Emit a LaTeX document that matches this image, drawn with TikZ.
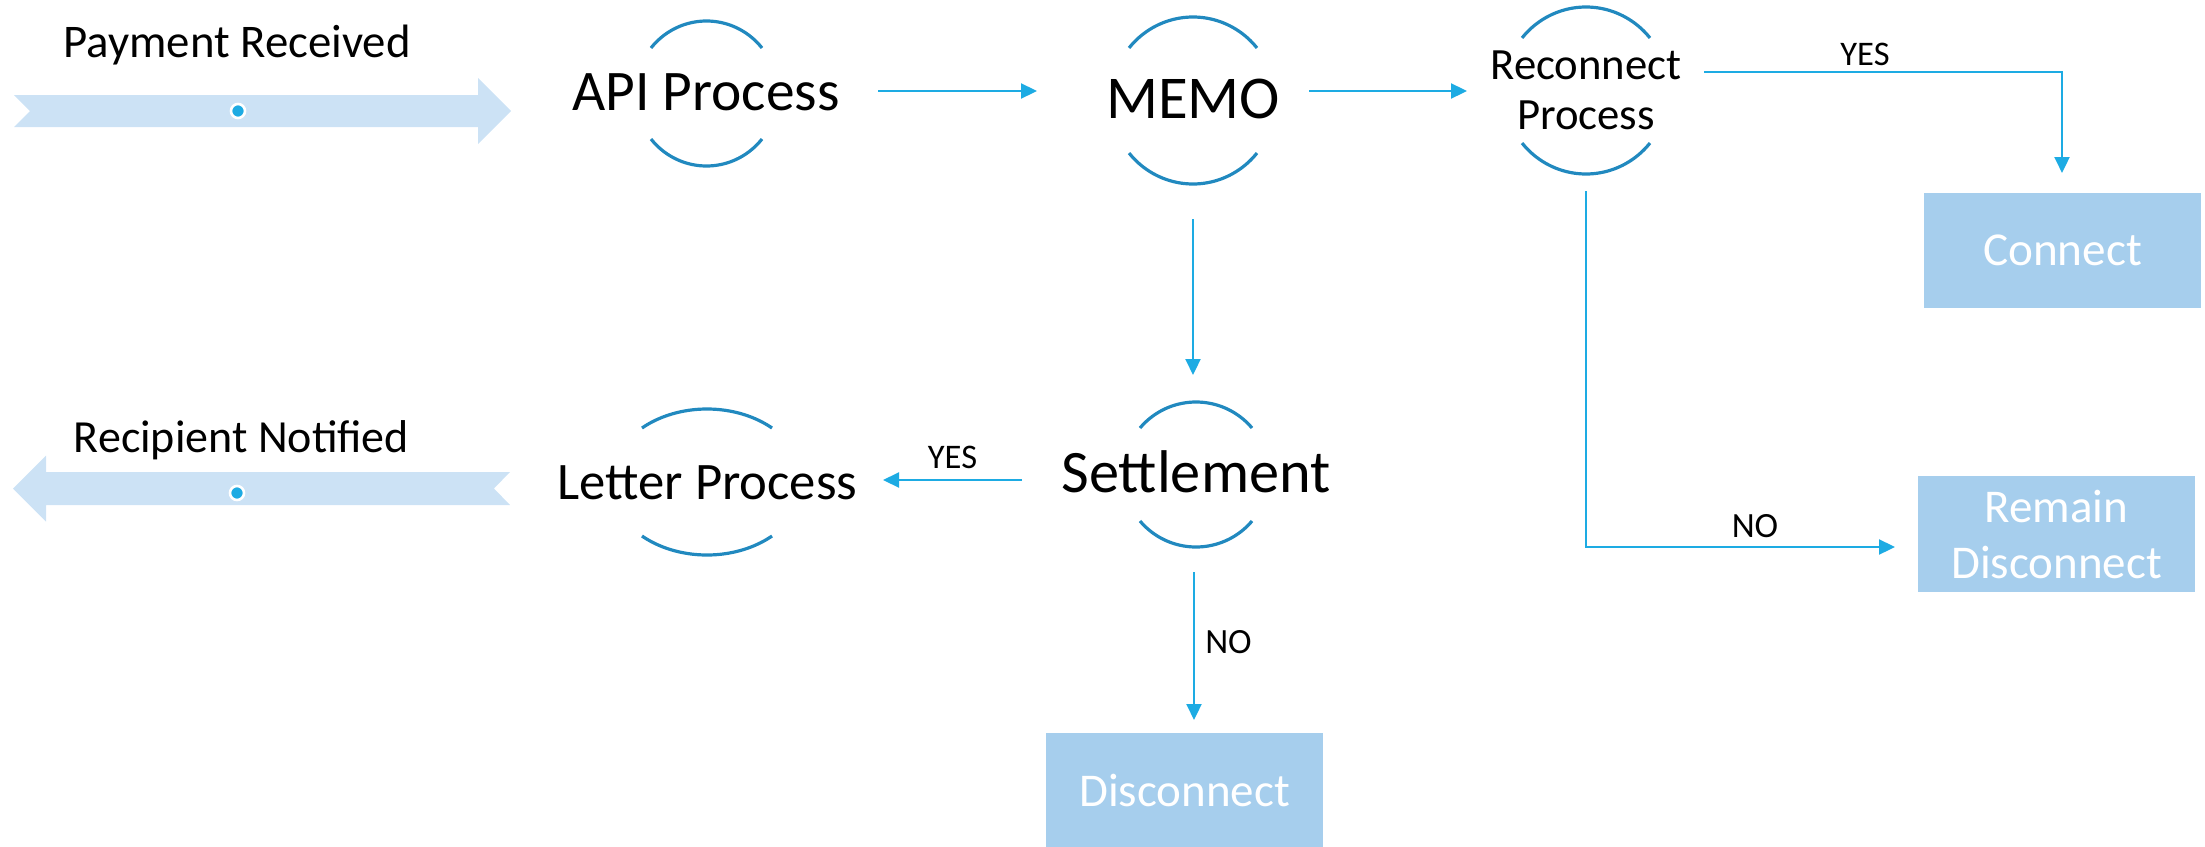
\documentclass[tikz,border=0pt]{standalone}
\usepackage{fontspec}
\setmainfont{Carlito}
\usetikzlibrary{arrows.meta}
\definecolor{connblue}{HTML}{1DABE3}
\definecolor{arcblue}{HTML}{2189BF}
\definecolor{boxblue}{HTML}{A6CEED}
\definecolor{bandblue}{HTML}{CCE2F5}
\newcommand\fsz[2]{\fontsize{#1}{#2}\selectfont}
\newcommand\ProcArcs[4]{%
  \begin{scope}[shift={(#1)}]
    \pgfmathsetmacro\PAstartT{180+#4}%
    \pgfmathsetmacro\PAendT{360-#4}%
    \pgfmathsetmacro\PAendB{180-#4}%
    \draw[arcline] plot[domain=\PAstartT:\PAendT,samples=60] ({#2*cos(\x)},{#3*sin(\x)});
    \draw[arcline] plot[domain=#4:\PAendB,samples=60] ({#2*cos(\x)},{#3*sin(\x)});
  \end{scope}}
\begin{document}
\begin{tikzpicture}[x=1pt,y=-1pt,
  conn/.style={draw=connblue,line width=2.2pt,-{Triangle[length=16pt,width=15pt]}},
  arcline/.style={draw=arcblue,line width=3.2pt},
  lbl/.style={anchor=base,inner sep=0pt,text=black},
  proc/.style={inner sep=0pt,text=black,align=center},
  box/.style={fill=boxblue,text=white,inner sep=0pt,align=center,minimum width=277pt,minimum height=115pt},
  band/.style={fill=bandblue},
  dotmark/.style={circle,fill=connblue,draw=white,line width=2.6pt,minimum size=14pt,inner sep=0pt}]
\useasboundingbox (0,0) rectangle (2205,846);

% block arrows
\fill[band] (14,95) -- (478,95) -- (478,78) -- (511,111) -- (478,144) -- (478,127) -- (14,127) -- (30,111) -- cycle;
\node[dotmark] (paydot) at (238,111) {};
\fill[band] (13,488.5) -- (46,455.5) -- (46,472) -- (510,472) -- (494,488.5) -- (510,505) -- (46,505) -- (46,521.5) -- cycle;
\node[dotmark] (recdot) at (237,493) {};

% outer labels
\node[lbl,font=\fsz{46.8}{56}] (payment) at (237,57) {Payment Received};
\node[lbl,font=\fsz{46}{55}] (recipient) at (241.5,452) {Recipient Notified};

% process nodes
\node[lbl,font=\fsz{57.4}{69}] (api) at (706,110) {API Process};
\node[lbl,font=\fsz{60.8}{73}] (memo) at (1193,118) {MEMO};
\node[proc,font=\fsz{44.7}{50}] (recon) at (1586,90) {Reconnect\\Process};
\node[lbl,font=\fsz{60.3}{72}] (settle) at (1196,492) {Settlement};
\node[lbl,font=\fsz{52.7}{63}] (letter) at (707.5,499) {Letter Process};

\coordinate (apiC) at (706.5,93.5);
\coordinate (memoC) at (1193,100.5);
\coordinate (reconC) at (1586,90.5);
\coordinate (settleC) at (1196,474.5);
\coordinate (letterC) at (707,482);
\ProcArcs{apiC}{71.3}{72.5}{38.9}
\ProcArcs{memoC}{82.3}{83.5}{39}
\ProcArcs{reconC}{82.3}{83.5}{39}
\ProcArcs{settleC}{73}{72.5}{39.9}
\ProcArcs{letterC}{96.6}{73}{47.7}

% result boxes
\node[box,font=\fsz{47.2}{56}] (connect) at (2062.5,250.5) {Connect};
\node[box,font=\fsz{47}{56},minimum height=116pt] (remain) at (2056.5,534) {Remain\\Disconnect};
\node[box,font=\fsz{47}{56}] (disc) at (1184.5,790.5) {Disconnect};

% connector ends
\coordinate (apiOut) at (878,91);
\coordinate (memoIn) at (1037,91);
\coordinate (memoOut) at (1309,91);
\coordinate (reconIn) at (1467,91);
\coordinate (memoDown) at (1193,219);
\coordinate (settleIn) at (1193,375);
\coordinate (settleLeft) at (1022,480);
\coordinate (letterIn) at (883,480);
\coordinate (settleDown) at (1194,572);
\coordinate (discIn) at (1194,720);
\coordinate (reconRight) at (1704,72);
\coordinate (connectIn) at (2062,173);
\coordinate (reconDown) at (1586,191);
\coordinate (remainIn) at (1895,547);

\draw[conn] (apiOut) -- (memoIn);
\draw[conn] (memoOut) -- (reconIn);
\draw[conn] (memoDown) -- (settleIn);
\draw[conn] (settleLeft) -- (letterIn);
\draw[conn] (settleDown) -- (discIn);
\draw[conn] (reconRight) -| (connectIn);
\draw[conn] (reconDown) |- (remainIn);

% branch labels
\node[lbl,font=\fsz{34.5}{41}] (yes1) at (1865,65) {YES};
\node[lbl,font=\fsz{34.5}{41}] (yes2) at (952.5,468) {YES};
\node[lbl,font=\fsz{35.5}{42}] (no1) at (1755,537) {NO};
\node[lbl,font=\fsz{35.5}{42}] (no2) at (1228.5,653) {NO};
\end{tikzpicture}
\end{document}
